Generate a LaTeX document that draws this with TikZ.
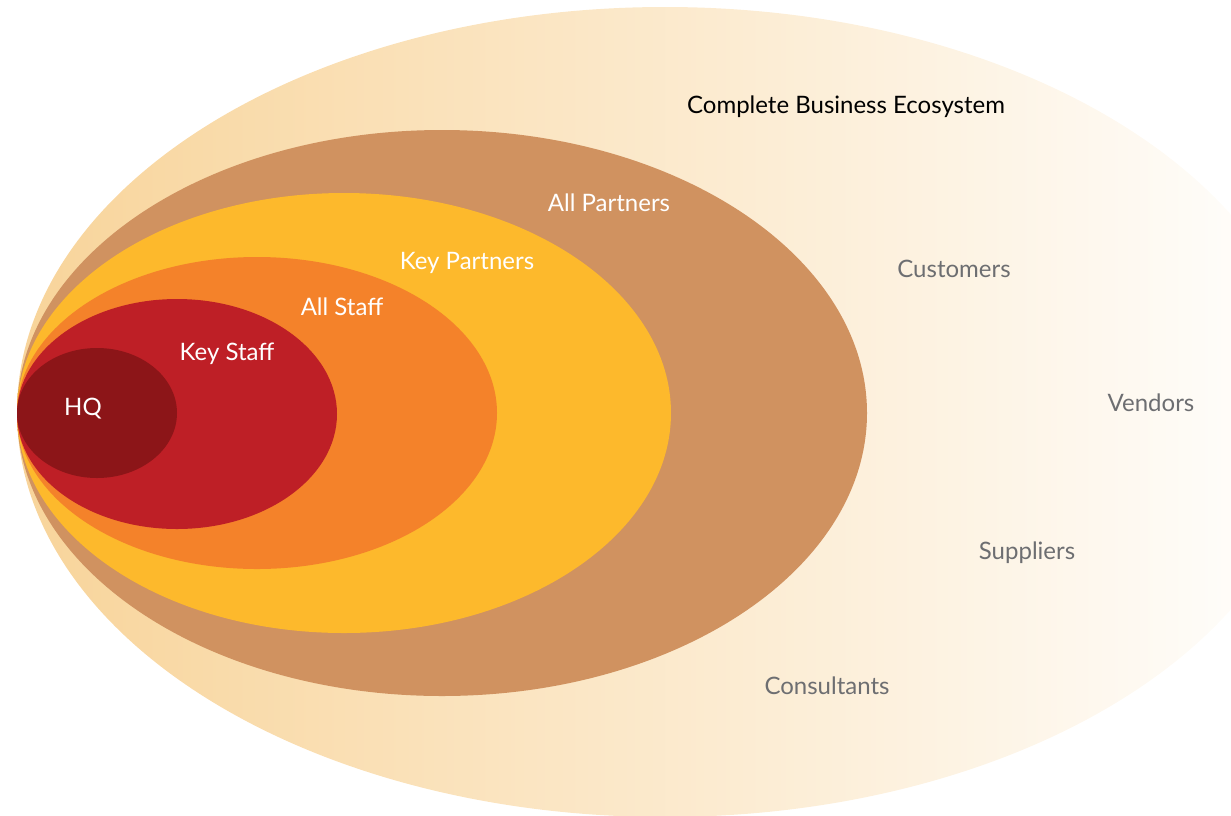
\documentclass[tikz,border=0pt]{standalone}
\usepackage{fontspec}
\setmainfont{Lato}
\usepackage{xcolor}
\usetikzlibrary{calc}

\definecolor{ecoLight}{HTML}{F8D49A}
\definecolor{partnerBrown}{HTML}{D09260}
\definecolor{keyYellow}{HTML}{FDB92C}
\definecolor{staffOrange}{HTML}{F4822A}
\definecolor{keyRed}{HTML}{BE1F26}
\definecolor{hqRed}{HTML}{8C1518}
\definecolor{labelGrey}{HTML}{6D6E71}

\tikzset{
  inner label/.style={text=white,font=\fontsize{24}{28}\selectfont,inner sep=0},
  outer label/.style={text=labelGrey,font=\fontsize{24}{28}\selectfont,inner sep=0}
}

\begin{document}
\begin{tikzpicture}[x=1pt,y=-1pt]

    \useasboundingbox (0,0) rectangle (1231,815);
    \clip (0,0) rectangle (1231,815);

    % The whole ecosystem
    \shade[left color=ecoLight,middle color=ecoLight!45,right color=white] (665,412) ellipse [x radius=648, y radius=405];

    % The rings, all touching at the left
    \fill[partnerBrown] (442,413) ellipse [x radius=425, y radius=283];
    \fill[keyYellow] (344,413) ellipse [x radius=327, y radius=220];
    \fill[staffOrange] (257,413) ellipse [x radius=240, y radius=156];
    \fill[keyRed] (177,414) ellipse [x radius=160, y radius=115];
    \fill[hqRed] (97,413) ellipse [x radius=80, y radius=65];

    % Labels inside
    \node[inner label] (hq) at (83,409) {HQ};
    \node[inner label] (keystaff) at (227,354) {Key Staff};
    \node[inner label] (allstaff) at (342,307) {All Staff};
    \node[inner label] (keypartners) at (467,263) {Key Partners};
    \node[inner label] (allpartners) at (609,203) {All Partners};

    % Labels outside
    \node[inner sep=0,font=\fontsize{24}{28}\selectfont] (ecosystem) at (846,107) {Complete Business Ecosystem};
    \node[outer label] (customers) at (954,269) {Customers};
    \node[outer label] (vendors) at (1151,403) {Vendors};
    \node[outer label] (suppliers) at (1027,553) {Suppliers};
    \node[outer label] (consultants) at (827,686) {Consultants};

\end{tikzpicture}
\end{document}
